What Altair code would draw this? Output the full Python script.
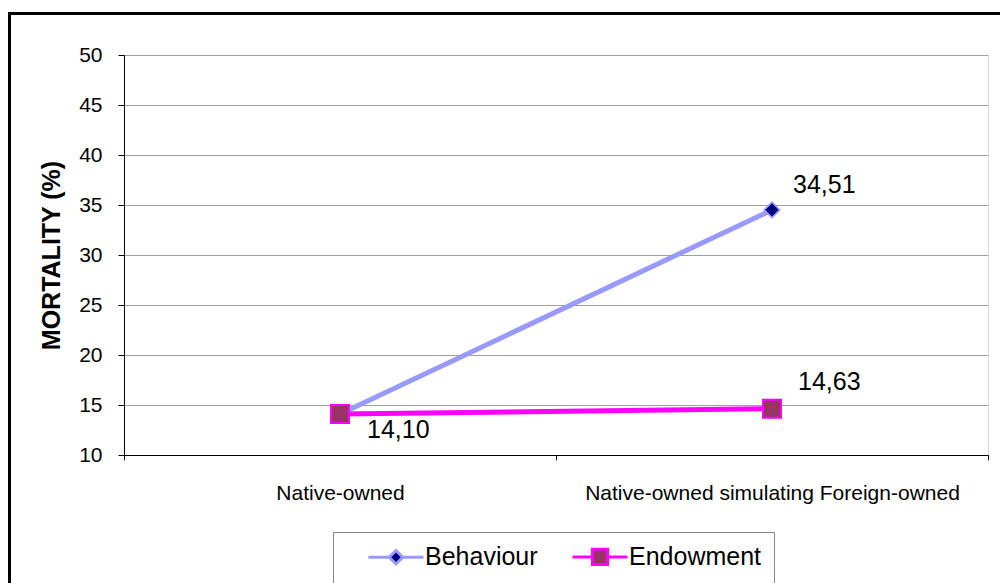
import altair as alt
import pandas as pd

# Mortality (%) for the two ownership scenarios
categories = ["Native-owned", "Native-owned simulating Foreign-owned"]
series_names = ["Behaviour", "Endowment"]
behaviour = [14.10, 34.51]
endowment = [14.10, 14.63]

FONT = "Liberation Sans"
PURPLE = "#9999FF"
NAVY = "#000080"
MAGENTA = "#FF00FF"
PLUM = "#993366"

rows = []
for cat, b, e in zip(categories, behaviour, endowment):
    rows.append({"category": cat, "series": "Behaviour", "value": b})
    rows.append({"category": cat, "series": "Endowment", "value": e})
df = pd.DataFrame(rows)
df["label"] = df["value"].map(lambda v: f"{v:.2f}".replace(".", ","))

x_enc = alt.X(
    "category:N",
    sort=categories,
    scale=alt.Scale(type="band", domain=categories, paddingInner=0, paddingOuter=0),
    axis=alt.Axis(
        title=None, labelAngle=0, labelFont=FONT, labelFontSize=21, labelColor="black",
        labelPadding=22, tickBand="extent", tickSize=5, tickColor="black",
        domainColor="black", domainWidth=1, grid=False, labelLimit=600,
    ),
)
y_enc = alt.Y(
    "value:Q",
    scale=alt.Scale(domain=[10, 50], nice=False, zero=False),
    axis=alt.Axis(
        title="MORTALITY (%)", titleFont=FONT, titleFontSize=25, titleFontWeight="bold",
        titleColor="black", titleAngle=270, titleX=-73, titleY=200, titleAlign="center",
        titleBaseline="middle",
        values=[10, 15, 20, 25, 30, 35, 40, 45, 50], labelFont=FONT, labelFontSize=21,
        labelColor="black", labelPadding=16, tickSize=6, tickColor="black",
        domainColor="black", domainWidth=1, gridColor="#a0a0a0", gridWidth=1,
    ),
)

base = alt.Chart(df)


def series_line(name, color):
    return base.transform_filter(alt.datum.series == name).mark_line(
        color=color, strokeWidth=5
    ).encode(x=x_enc, y=y_enc)


def series_points(name, shape, fill, stroke, size, sw):
    return base.transform_filter(alt.datum.series == name).mark_point(
        shape=shape, filled=True, fill=fill, stroke=stroke, size=size,
        strokeWidth=sw, opacity=1,
    ).encode(x=x_enc, y=y_enc)


def value_label(name, cat, dx, dy):
    return base.transform_filter(
        (alt.datum.series == name) & (alt.datum.category == cat)
    ).mark_text(
        align="left", baseline="middle", dx=dx, dy=dy, font=FONT, fontSize=25,
        color="black",
    ).encode(x=x_enc, y=y_enc, text="label:N")


# Legend symbols: a short line with the series marker in its middle
sym_behaviour = "M1.22,0H3.5M5.06,0H7.33M4.28,-0.75L5.03,0L4.28,0.75L3.53,0Z"
sym_endowment = "M1.22,0H3.43M5.13,0H7.33M3.43,-0.85H5.13V0.85H3.43Z"

legend = alt.Legend(
    orient="none", legendX=209, legendY=477, direction="horizontal", title=None,
    strokeColor="#888888", fillColor="white", padding=12, labelFont=FONT,
    labelFontSize=25, labelColor="black", labelOffset=55, columnPadding=11,
    symbolSize=324, symbolStrokeWidth=3,
)

legend_layer = base.transform_filter("false").mark_point(
    filled=True, size=324, strokeWidth=3, opacity=1
).encode(
    x=x_enc,
    y=y_enc,
    shape=alt.Shape("series:N", scale=alt.Scale(domain=series_names, range=[sym_behaviour, sym_endowment]), legend=legend),
    fill=alt.Fill("series:N", scale=alt.Scale(domain=series_names, range=[NAVY, PLUM]), legend=legend),
    stroke=alt.Stroke("series:N", scale=alt.Scale(domain=series_names, range=[PURPLE, MAGENTA]), legend=legend),
)

frame = alt.Chart(pd.DataFrame({"k": [0]})).mark_rect(
    fill=None, stroke="black", strokeWidth=3
).encode(
    x=alt.value(-114.5), x2=alt.value(900), y=alt.value(-41.5), y2=alt.value(600)
)

chart = alt.layer(
    frame,
    series_line("Behaviour", PURPLE),
    series_points("Behaviour", "diamond", NAVY, PURPLE, 240, 1.5),
    series_line("Endowment", MAGENTA),
    series_points("Endowment", "square", PLUM, MAGENTA, 324, 2),
    value_label("Behaviour", categories[1], 21, -25),
    value_label("Endowment", categories[1], 26, -27),
    value_label("Endowment", categories[0], 27, 16),
    legend_layer,
).properties(
    width=864,
    height=400,
    autosize=alt.AutoSizeParams(type="none"),
    padding={"left": 124, "top": 55, "right": 12, "bottom": 128},
).configure_view(stroke=None).configure(background="white")

chart.save("out.html", embed_options={"renderer": "svg", "actions": False})
